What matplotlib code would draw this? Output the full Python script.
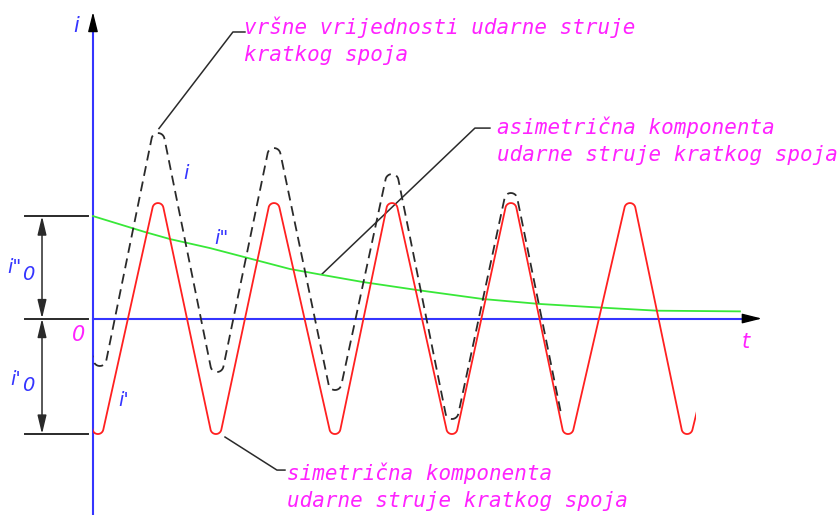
import matplotlib
matplotlib.use("Agg")
import matplotlib.pyplot as plt
import numpy as np
from matplotlib.patches import Rectangle

# time in periods, current in units of the symmetric amplitude
# visible peak/trough values; first (and last for sym) points are off-axis guides, clipped away
sym_t = [-0.449, 0.042, 0.551, 1.042, 1.534, 2.051, 2.534, 3.042, 3.542, 4.025, 4.551, 5.034, 5.55]
sym_i = [1.0, -1.0, 1.0, -1.0, 1.0, -1.0, 1.0, -1.0, 1.0, -1.0, 1.0, -1.0, 1.0]
sym_end = 5.110

tot_t = [-0.45, 0.059, 0.551, 1.051, 1.534, 2.051, 2.534, 3.042, 3.542, 3.966]
tot_i = [1.6, -0.411, 1.606, -0.463, 1.476, -0.619, 1.251, -0.870, 1.087, -0.818]

asym_t = [0.0, 0.441, 0.653, 0.992, 1.669, 1.949, 2.288, 2.746, 3.305, 3.788, 4.212, 4.780, 5.483]
asym_i = [0.887, 0.749, 0.688, 0.610, 0.429, 0.377, 0.316, 0.247, 0.169, 0.126, 0.100, 0.068, 0.062]

i_dc0 = 0.887   # i"0
i_ac0 = -1.0    # i'0

notes = [
    (["vršne vrijednosti udarne struje", "kratkog spoja"],
     (1.280, 2.524), [(0.559, 1.645), (1.186, 2.481), (1.288, 2.481)]),
    (["asimetrična komponenta", "udarne struje kratkog spoja"],
     (3.424, 1.658), [(1.941, 0.385), (3.237, 1.649), (3.364, 1.649)]),
    (["simetrična komponenta", "udarne struje kratkog spoja"],
     (1.644, -1.338), [(1.119, -1.026), (1.559, -1.312), (1.627, -1.312)]),
]
line_gap = 0.245

BLUE = "#3535ff"
MAGENTA = "#ff22ff"
RED = "#ff2020"
GREEN = "#38e838"
DARK = "#2a2a2a"


def _unit(v):
    return v / np.hypot(*v)


def filleted(ax, t, i, r):
    """Polyline through the extremes with circular fillets of radius r px at each tip."""
    ext = ax.transData.transform(np.column_stack([t, i]))
    vtx = ext.copy()

    def corner(k):
        u1 = _unit(vtx[k - 1] - vtx[k])
        u2 = _unit(vtx[k + 1] - vtx[k])
        half = 0.5 * np.arccos(np.clip(u1 @ u2, -1, 1))
        return u1, u2, half, _unit(u1 + u2)

    # push the sharp vertex out so the rounded tip lands on the read extreme
    for _ in range(10):
        for k in range(1, len(vtx) - 1):
            _, _, half, b = corner(k)
            vtx[k] = ext[k] - b * (r / np.sin(half) - r)

    out = [vtx[0]]
    for k in range(1, len(vtx) - 1):
        u1, u2, half, b = corner(k)
        c = vtx[k] + b * r / np.sin(half)
        p1 = vtx[k] + u1 * r / np.tan(half) - c
        p2 = vtx[k] + u2 * r / np.tan(half) - c
        a1, a2 = np.arctan2(p1[1], p1[0]), np.arctan2(p2[1], p2[0])
        da = (a2 - a1 + np.pi) % (2 * np.pi) - np.pi
        ang = a1 + da * np.linspace(0, 1, 24)
        out.extend(np.column_stack([c[0] + r * np.cos(ang), c[1] + r * np.sin(ang)]))
    out.append(vtx[-1])
    xy = ax.transData.inverted().transform(np.array(out))
    return xy[:, 0], xy[:, 1]


fig = plt.figure(figsize=(8.4, 5.15), dpi=100)
ax = fig.add_axes([0, 0, 1, 1])
ax.set_xlim(-0.788, 6.331)
ax.set_ylim(-1.701, 2.758)
ax.axis("off")

# axes
ax.plot([0, 0], [-1.75, 2.51], color=BLUE, lw=1.5, zorder=2)
ax.plot([0, 5.525], [0, 0], color=BLUE, lw=1.5, zorder=2)
head = dict(arrowstyle="-|>,head_length=0.8,head_width=0.2", color="black",
            lw=1, shrinkA=0, shrinkB=0, mutation_scale=15)
ax.annotate("", xy=(0, 2.654), xytext=(0, 2.50), arrowprops=head)
ax.annotate("", xy=(5.669, 0), xytext=(5.52, 0), arrowprops=head)

# dimension lines on the left
for lev in [i_dc0, 0.0, i_ac0]:
    ax.plot([-0.576, -0.042], [lev, lev], color=DARK, lw=1.4)
dim = dict(arrowstyle="<|-|>,head_length=0.75,head_width=0.18", color=DARK,
           lw=1.1, shrinkA=0, shrinkB=0, mutation_scale=15)
ax.annotate("", xy=(-0.432, i_dc0), xytext=(-0.432, 0.0), arrowprops=dim)
ax.annotate("", xy=(-0.432, 0.0), xytext=(-0.432, i_ac0), arrowprops=dim)

# curves
ax.plot(asym_t, asym_i, color=GREEN, lw=1.3, zorder=3)

sx, sy = filleted(ax, sym_t, sym_i, 5.5)
red, = ax.plot(sx, sy, color=RED, lw=1.3, zorder=4)
red.set_clip_path(Rectangle((0, -3), sym_end, 6, transform=ax.transData))

tx, ty = filleted(ax, tot_t, tot_i, 6.5)
tot, = ax.plot(tx, ty, color=DARK, lw=1.3, dashes=(5.5, 3.2), zorder=5)
tot.set_clip_path(Rectangle((0, -3), 10, 6, transform=ax.transData))

# single-letter labels
lab = dict(family="DejaVu Sans", style="oblique", ha="center", va="center")
ax.text(-0.144, 2.532, "i", color=BLUE, fontsize=15, **lab)
ax.text(0.788, 1.26, "i", color=BLUE, fontsize=14, **lab)
ax.text(1.085, 0.697, 'i"', color=BLUE, fontsize=14, **lab)
ax.text(0.263, -0.706, "i'", color=BLUE, fontsize=14, **lab)
ax.text(-0.661, 0.446, 'i"', color=BLUE, fontsize=14, **lab)
ax.text(-0.551, 0.377, "0", color=BLUE, fontsize=14, **lab)
ax.text(-0.653, -0.532, "i'", color=BLUE, fontsize=14, **lab)
ax.text(-0.551, -0.576, "0", color=BLUE, fontsize=14, **lab)
ax.text(-0.119, -0.143, "0", color=MAGENTA, fontsize=15, **lab)
ax.text(5.534, -0.203, "t", color=MAGENTA, fontsize=15, **lab)

# annotations with leader lines
for lines, (tx0, ty0), leader in notes:
    lx, ly = zip(*leader)
    ax.plot(lx, ly, color=DARK, lw=1.1)
    for n, s in enumerate(lines):
        ax.text(tx0, ty0 - n * line_gap, s, color=MAGENTA, fontsize=15,
                family="DejaVu Sans Mono", style="oblique", ha="left", va="center")

fig.savefig("out.png", dpi=100)
